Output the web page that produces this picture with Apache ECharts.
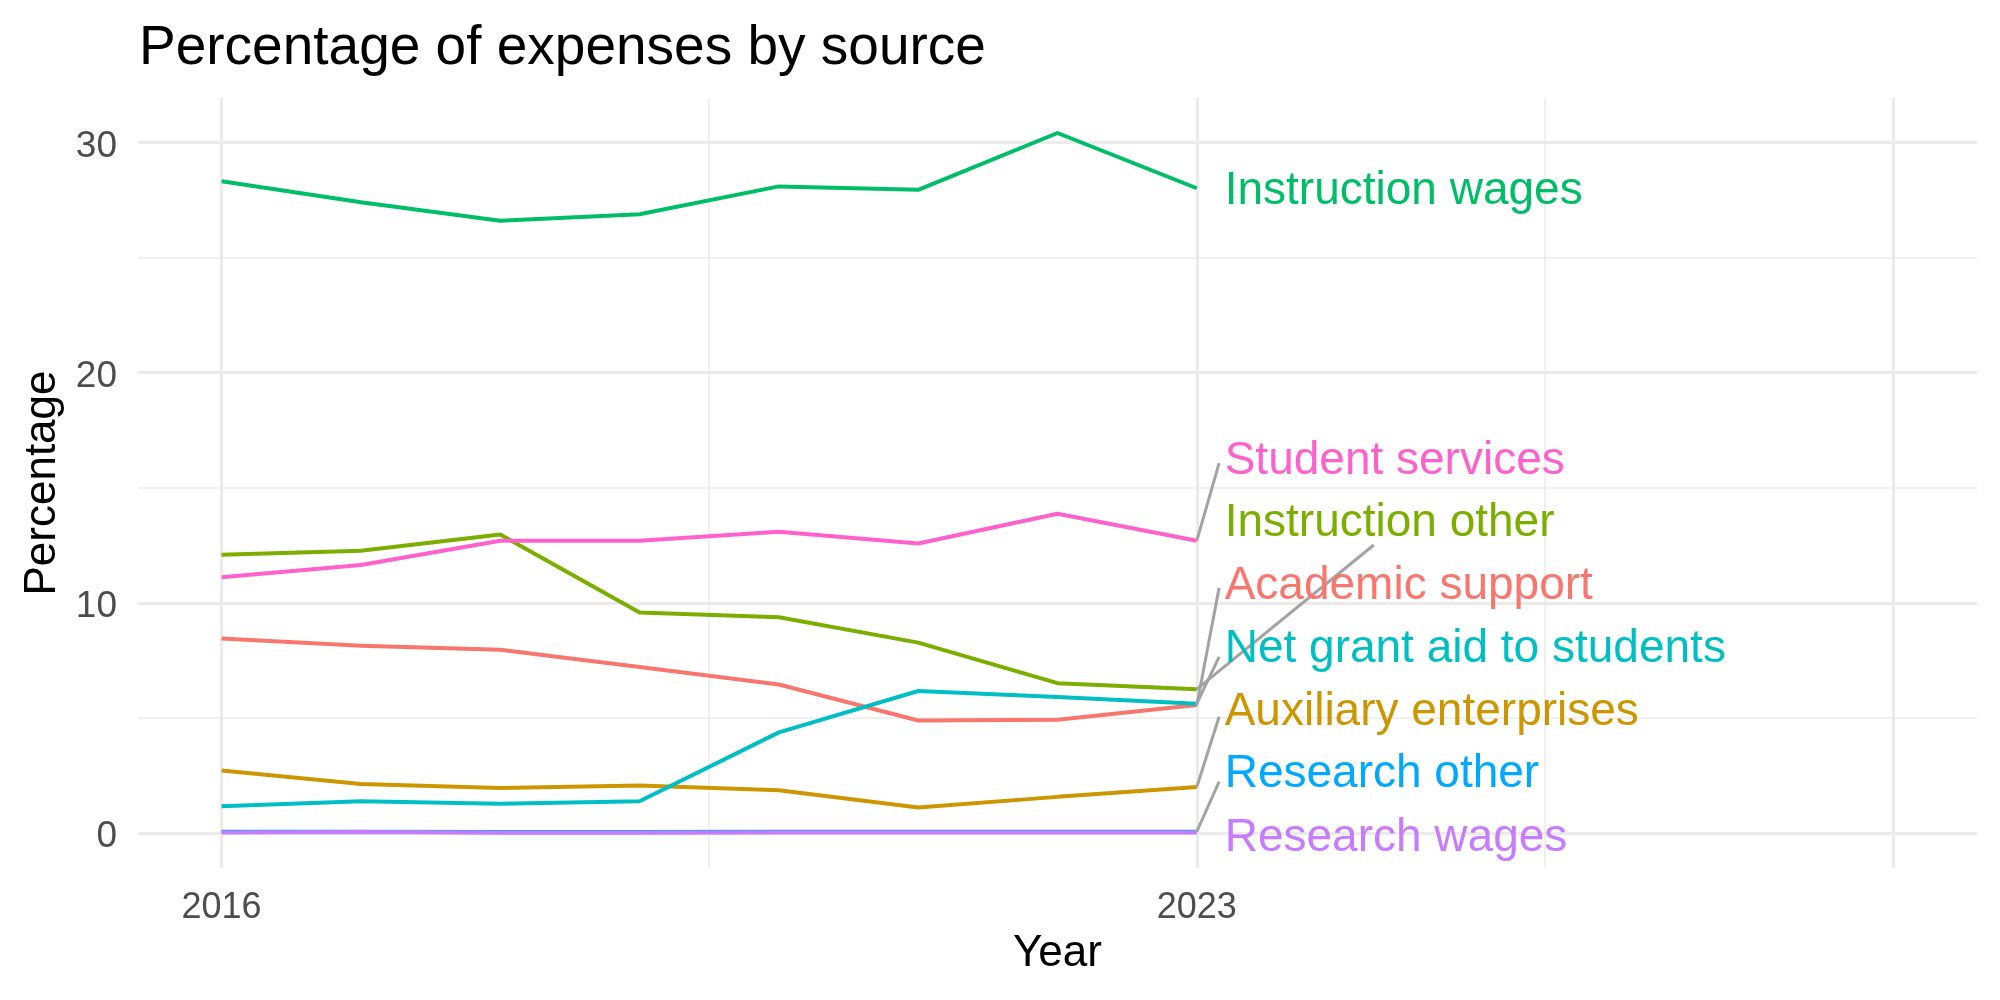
<!DOCTYPE html>
<html>
<head>
<meta charset="utf-8">
<title>Percentage of expenses by source</title>
<script src="https://cdn.jsdelivr.net/npm/echarts@6/dist/echarts.min.js"></script>
<style>
    html, body { margin: 0; padding: 0; background: #fff; }
    #main { width: 2000px; height: 1000px; }
</style>
</head>
<body>
<div id="main"></div>
<script>
// data
var years = [2016, 2017, 2018, 2019, 2020, 2021, 2022, 2023];
var academicSupport = [8.45, 8.13, 7.96, 7.21, 6.45, 4.89, 4.92, 5.56];
var auxiliaryEnterprises = [2.72, 2.13, 1.96, 2.06, 1.86, 1.11, 1.57, 2.00];
var instructionOther = [12.09, 12.26, 12.97, 9.58, 9.37, 8.27, 6.51, 6.25];
var instructionWages = [28.31, 27.40, 26.60, 26.88, 28.09, 27.94, 30.41, 28.01];
var netGrantAid = [1.16, 1.38, 1.27, 1.38, 4.37, 6.17, 5.91, 5.62];
var researchOther = [0.05, 0.06, 0.04, 0.04, 0.05, 0.05, 0.05, 0.06];
var researchWages = [0.02, 0.04, 0.01, 0.01, 0.02, 0.02, 0.02, 0.02];
var studentServices = [11.11, 11.64, 12.70, 12.70, 13.09, 12.58, 13.87, 12.70];

var seriesNames = ['Academic support', 'Auxiliary enterprises', 'Instruction other', 'Instruction wages',
    'Net grant aid to students', 'Research other', 'Research wages', 'Student services'];
var seriesValues = [academicSupport, auxiliaryEnterprises, instructionOther, instructionWages,
    netGrantAid, researchOther, researchWages, studentServices];

// tick labels / gridlines
var xTicks = [2016, 2023];
var xMajorGrid = [2016, 2023, 2028];
var xMinorGrid = [2019.5, 2025.5];
var yTicks = [0, 10, 20, 30];
var yMinorGrid = [5, 15, 25];

// styles and label layout (repelled labels)
var colors = ['#F8766D', '#CD9600', '#7CAE00', '#00BE67', '#00BFC4', '#00A9FF', '#C77CFF', '#FF61CC'];
var labelX = 2023.2;
var labelY = [10.70, 5.25, 13.47, 27.88, 7.99, 2.53, -0.24, 16.15];
var segEnd = [[2023.16, 10.65], [2023.16, 5.05], [2024.27, 12.51], null, [2023.16, 7.65], [2023.16, 2.23], null, [2023.16, 16.07]];

var FONT = '"Liberation Sans", Arial, Helvetica, sans-serif';
var chart = echarts.init(document.getElementById('main'));

var gridLines = [];
xMajorGrid.forEach(function (v) { gridLines.push({xAxis: v, lineStyle: {color: '#EBEBEB', width: 3, type: 'solid'}}); });
xMinorGrid.forEach(function (v) { gridLines.push({xAxis: v, lineStyle: {color: '#EBEBEB', width: 1.5, type: 'solid'}}); });
yTicks.forEach(function (v) { gridLines.push({yAxis: v, lineStyle: {color: '#EBEBEB', width: 3, type: 'solid'}}); });
yMinorGrid.forEach(function (v) { gridLines.push({yAxis: v, lineStyle: {color: '#EBEBEB', width: 1.5, type: 'solid'}}); });

// gridlines go under everything
var series = [{
    type: 'line',
    data: [],
    z: 0,
    silent: true,
    markLine: {silent: true, z: 0, symbol: ['none', 'none'], label: {show: false}, animation: false, data: gridLines}
}];

// lines
seriesNames.forEach(function (name, i) {
    series.push({
        name: name,
        type: 'line',
        z: 2,
        showSymbol: false,
        data: years.map(function (y, j) { return [y, seriesValues[i][j]]; }),
        lineStyle: {color: colors[i], width: 4},
        itemStyle: {color: colors[i]}
    });
});

// leader segments
seriesNames.forEach(function (name, i) {
    if (!segEnd[i]) return;
    var last = seriesValues[i][seriesValues[i].length - 1];
    series.push({
        type: 'line',
        z: 3,
        showSymbol: false,
        silent: true,
        data: [[years[years.length - 1], last], segEnd[i]],
        lineStyle: {color: '#A3A3A3', width: 3}
    });
});

// text labels
seriesNames.forEach(function (name, i) {
    series.push({
        type: 'scatter',
        z: 4,
        symbolSize: 0,
        silent: true,
        itemStyle: {opacity: 1},
        data: [[labelX, labelY[i]]],
        label: {
            show: true,
            position: 'right',
            distance: 0,
            formatter: name,
            color: colors[i],
            opacity: 1,
            fontSize: 46,
            fontFamily: FONT,
            verticalAlign: 'middle'
        }
    });
});

chart.setOption({
    animation: false,
    backgroundColor: '#ffffff',
    title: {
        text: 'Percentage of expenses by source',
        left: 134,
        top: 16,
        textStyle: {color: '#000', fontSize: 55, fontWeight: 'normal', fontFamily: FONT}
    },
    grid: {left: 138, right: 23, top: 98, bottom: 132, outerBoundsMode: 'none', containLabel: false},
    xAxis: {
        type: 'value',
        min: 2015.4,
        max: 2028.6,
        name: 'Year',
        nameLocation: 'middle',
        nameGap: 64,
        nameTextStyle: {color: '#000', fontSize: 44, fontFamily: FONT},
        axisLine: {show: false},
        axisTick: {show: false},
        splitLine: {show: false},
        axisLabel: {
            customValues: xTicks,
            formatter: function (v) { return String(v); },
            color: '#4D4D4D',
            fontSize: 36,
            fontFamily: FONT,
            margin: 22
        }
    },
    yAxis: {
        type: 'value',
        min: -1.52,
        max: 31.93,
        name: 'Percentage',
        nameLocation: 'middle',
        nameGap: 69,
        nameTextStyle: {color: '#000', fontSize: 44, fontFamily: FONT},
        axisLine: {show: false},
        axisTick: {show: false},
        splitLine: {show: false},
        axisLabel: {
            customValues: yTicks,
            formatter: function (v) { return '{t|' + v + '}'; },
            margin: 21,
            rich: {
                t: {color: '#4D4D4D', fontSize: 37, fontFamily: FONT, padding: [8, 0, 0, 0]}
            }
        }
    },
    series: series
});
</script>
</body>
</html>
